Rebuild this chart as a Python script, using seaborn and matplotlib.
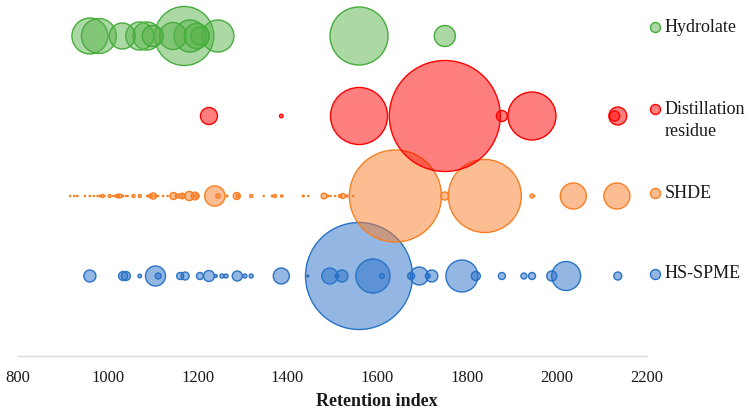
import numpy as np
import pandas as pd
import matplotlib
matplotlib.use("Agg")
import matplotlib.pyplot as plt
from matplotlib.lines import Line2D
import seaborn as sns

# ---------------- data ----------------
series_names = ["HS-SPME", "SHDE", "Distillation residue", "Hydrolate"]
legend_labels = ["Hydrolate", "Distillation\nresidue", "SHDE", "HS-SPME"]
row_positions = [1, 2, 3, 4]

hydrolate_ri = [960, 980, 1032, 1071, 1087, 1100, 1145, 1170, 1183, 1198, 1205, 1245, 1559, 1750]
hydrolate_val = [10.5, 9.9, 5.5, 6.4, 6.4, 3.6, 5.9, 28.3, 8.3, 5.1, 2.6, 8.3, 27.3, 3.6]

residue_ri = [1225, 1386, 1559, 1750, 1877, 1944, 2135, 2128]
residue_val = [2.35, 0.1, 26.4, 100, 0.98, 18.7, 2.6, 0.81]

shde_ri = [916, 925, 932, 949, 960, 969, 977, 982, 988, 993, 1004, 1012, 1018, 1022, 1027,
           1033, 1040, 1044, 1057, 1071, 1088, 1095, 1101, 1107, 1112, 1123, 1133, 1146,
           1155, 1165, 1168, 1181, 1194, 1198, 1238, 1245, 1265, 1287, 1289, 1319, 1347,
           1366, 1372, 1387, 1435, 1446, 1481, 1490, 1496, 1506, 1517, 1523, 1532, 1546,
           1640, 1750, 1839, 1944, 1949, 2036, 2133]
shde_val = [0.01, 0.01, 0.014, 0.01, 0.014, 0.01, 0.01, 0.023, 0.073, 0.01, 0.073, 0.01, 0.043,
            0.11, 0.11, 0.023, 0.01, 0.01, 0.073, 0.073, 0.023, 0.11, 0.32, 0.043, 0.01, 0.01,
            0.01, 0.40, 0.15, 0.26, 0.11, 0.66, 0.48, 0.15, 3.34, 0.15, 0.023, 0.40, 0.073,
            0.073, 0.01, 0.023, 0.073, 0.043, 0.023, 0.01, 0.26, 0.023, 0.01, 0.01, 0.073,
            0.20, 0.043, 0.01, 68.7, 0.52, 43.3, 0.13, 0.01, 5.5, 5.5]

spme_ri = [960, 1034, 1040, 1071, 1106, 1112, 1161, 1172, 1205, 1225, 1240, 1254, 1263, 1288,
           1305, 1319, 1386, 1445, 1494, 1510, 1521, 1559, 1590, 1610, 1675, 1693, 1712, 1721,
           1788, 1819, 1877, 1926, 1944, 1988, 2020, 2135]
spme_val = [1.17, 0.66, 0.66, 0.1, 3.25, 0.29, 0.40, 0.52, 0.40, 0.98, 0.073, 0.13, 0.13, 0.81,
            0.13, 0.13, 2.08, 0.03, 2.08, 0.13, 1.17, 92.9, 9.4, 0.2, 0.40, 2.63, 0.2, 1.17,
            8.3, 0.66, 0.40, 0.29, 0.40, 0.81, 6.8, 0.52]

x_ticks = [800, 1000, 1200, 1400, 1600, 1800, 2000, 2200]
x_label = "Retention index"

# ---------------- styling ----------------
edge_colors = {"HS-SPME": "#2a72c6", "SHDE": "#f77f22",
               "Distillation residue": "#ff0000", "Hydrolate": "#45ad3c"}
fill_colors = {"HS-SPME": (0.16, 0.44, 0.78, 0.5), "SHDE": (0.98, 0.49, 0.16, 0.5),
               "Distillation residue": (1.0, 0.0, 0.0, 0.5), "Hydrolate": (0.35, 0.70, 0.29, 0.5)}

frames = []
for name, ri, val, row in zip(series_names,
                              [spme_ri, shde_ri, residue_ri, hydrolate_ri],
                              [spme_val, shde_val, residue_val, hydrolate_val],
                              row_positions):
    frames.append(pd.DataFrame({"series": name, "RI": ri, "value": val, "row": row}))
df = pd.concat(frames, ignore_index=True)

W, H, DPI = 7.51, 4.09, 100
sns.set_theme(style="white")
plt.rcParams["font.family"] = ["Liberation Serif", "DejaVu Serif"]

fig = plt.figure(figsize=(W, H), dpi=DPI)
ax_left, ax_right, ax_bottom_px = 18, 647, 356
ax = fig.add_axes([ax_left / 751, (409 - ax_bottom_px) / 409,
                   (ax_right - ax_left) / 751, ax_bottom_px / 409])

max_diam_pt = 111 * 72 / DPI
smax = max_diam_pt ** 2

for name in series_names:
    sub = df[df["series"] == name].sort_values("value", ascending=False)
    sns.scatterplot(data=sub, x="RI", y="row", size="value", sizes=(0, smax),
                    size_norm=(0, 100), color=edge_colors[name],
                    edgecolor=edge_colors[name], linewidth=1.0, legend=False, ax=ax)
    coll = ax.collections[-1]
    coll.set_facecolor(fill_colors[name])
    coll.set_edgecolor(edge_colors[name])
    coll.set_clip_on(False)

ax.set_xlim(800, 2200)
ax.set_ylim(0, ax_bottom_px / 80)
ax.set_xticks(x_ticks)
ax.set_xticklabels([str(t) for t in x_ticks])
ax.set_yticks([])
ax.set_xlabel("")
ax.set_ylabel("")
ax.tick_params(axis="x", length=0, pad=10, labelsize=12, labelcolor="#1a1a1a")
for s in ["top", "right", "left"]:
    ax.spines[s].set_visible(False)
ax.spines["bottom"].set_color("#d9d9d9")
ax.spines["bottom"].set_linewidth(1.0)
ax.patch.set_alpha(0)

fig.text(377 / 751, 1 - 402 / 409, x_label, ha="center", va="center",
         fontsize=13, fontweight="bold", color="#1a1a1a")

# legend (manual, right side)
legend_series = ["Hydrolate", "Distillation residue", "SHDE", "HS-SPME"]
legend_y = [27, 109, 193, 274]
for name, label, yy in zip(legend_series, legend_labels, legend_y):
    fy = 1 - yy / 409
    fig.add_artist(Line2D([655 / 751], [fy], marker="o", markersize=7.2, linestyle="none",
                          markerfacecolor=fill_colors[name], markeredgecolor=edge_colors[name],
                          markeredgewidth=1.0, transform=fig.transFigure))
    lines = label.split("\n")
    for i, ln in enumerate(lines):
        fig.text(665 / 751, 1 - (yy + i * 22) / 409, ln, ha="left", va="center",
                 fontsize=13, color="#1a1a1a")

fig.savefig("out.png", dpi=DPI)
